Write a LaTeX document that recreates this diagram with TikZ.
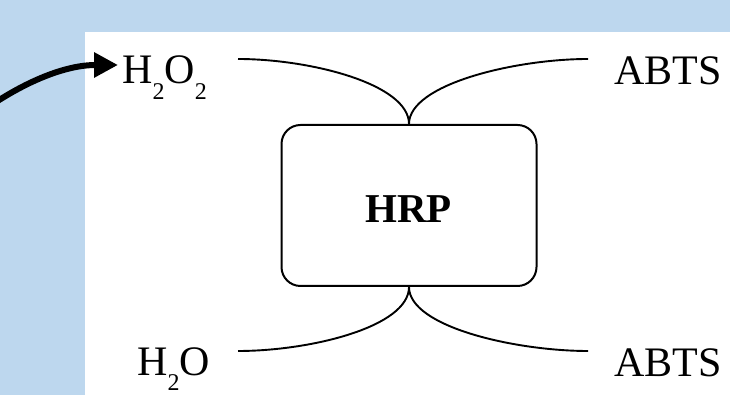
\documentclass[tikz,border=0pt]{standalone}
\usepackage{fontspec}
\setmainfont{Liberation Serif}
\usetikzlibrary{arrows.meta,calc}
\definecolor{panelblue}{HTML}{BDD7EE}
\newcommand{\lowsub}[2][16.3pt]{\raisebox{-#1}{\fontsize{24}{24}\selectfont #2}}
\begin{document}
\begin{tikzpicture}[x=1pt,y=1pt,
  label/.style={inner sep=0pt, anchor=base west, font=\fontsize{42}{48}\selectfont},
  enzyme/.style={draw, line width=2pt, rounded corners=19pt,
    minimum width=255pt, minimum height=161pt, inner sep=0pt},
  link/.style={line width=1.9pt},
  pointer/.style={line width=6pt, -{Triangle[length=24pt,width=24pt]}}]
  % backdrop and white panel
  \useasboundingbox (0,0) rectangle (730,395);
  \fill[panelblue] (0,0) rectangle (730,395);
  \fill[white] (85,0) rectangle (730,363);

  % enzyme box
  \node[enzyme] (hrp) at (409,189.5) {};
  \node[inner sep=0pt, anchor=base, font=\fontsize{41}{48}\selectfont\bfseries]
    (hrpt) at (408.5,172) {HRP};

  % substrates and products
  \node[label] (h2o2) at (122,311.7) {H\lowsub{2}O\lowsub{2}};
  \node[label] (abtsA) at (614,310) {ABTS};
  \node[label] (h2o) at (137,19.5) {H\lowsub[15pt]{2}O};
  \node[label] (abtsB) at (614,18.3) {ABTS};

  % free ends of the reaction curves
  \coordinate (inA) at (238,336);
  \coordinate (inB) at (588,336);
  \coordinate (outA) at (238,44);
  \coordinate (outB) at (588,44);

  \draw[link] (inA) .. controls +(72,0) and +(0,40) .. (hrp.north);
  \draw[link] (hrp.north) .. controls +(0,40) and +(-72,0) .. (inB);
  \draw[link] (outA) .. controls +(72,0) and +(0,-40) .. (hrp.south);
  \draw[link] (hrp.south) .. controls +(0,-40) and +(-72,0) .. (outB);

  % pointer to hydrogen peroxide
  \coordinate (tail) at (-10,289);
  \draw[pointer] (tail) .. controls (30,316) and (68,330) .. ($(h2o2.base west)+(-4,18.3)$);
\end{tikzpicture}
\end{document}
